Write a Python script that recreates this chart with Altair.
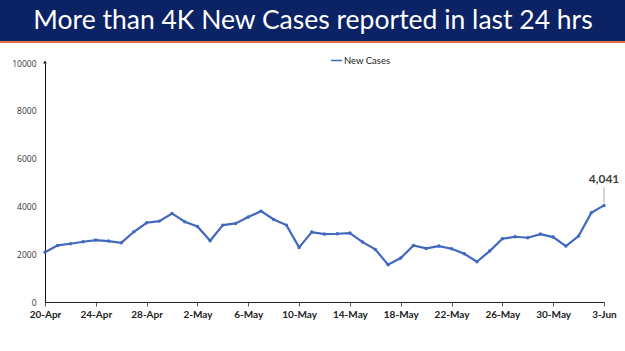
import altair as alt
import pandas as pd

dates = [d.strftime("%-d-%b") for d in pd.date_range("2020-04-20", "2020-06-03", freq="D")]
new_cases = [2080, 2368, 2437, 2521, 2591, 2549, 2479, 2939, 3315, 3384,
             3705, 3357, 3162, 2563, 3217, 3287, 3552, 3802, 3454, 3217,
             2284, 2925, 2841, 2855, 2883, 2507, 2201, 1560, 1838, 2368,
             2242, 2340, 2228, 2019, 1685, 2131, 2646, 2730, 2688, 2841,
             2716, 2340, 2758, 3733, 4041]
tick_labels = dates[::4]
series_name = "New Cases"
title_text = "More than 4K New Cases reported in last 24 hrs"

df = pd.DataFrame({"date": dates, "cases": new_cases, "series": series_name})
last = df.tail(1).copy()
last["label"] = "4,041"

W, H = 559, 239
LEFT, TOP = 45, 63
BLUE = "#4168bf"

xenc = alt.X("date:O", sort=None, scale=alt.Scale(type="point", padding=0),
             axis=alt.Axis(values=tick_labels, labelAngle=0, title=None,
                           labelFont="Lato", labelFontWeight="bold", labelFontSize=10,
                           labelColor="#222", domainColor="#222", tickColor="#555",
                           tickSize=4, labelPadding=3, grid=False))
yenc = alt.Y("cases:Q", scale=alt.Scale(domain=[0, 10000], nice=False),
             axis=alt.Axis(values=[0, 2000, 4000, 6000, 8000, 10000], title=None,
                           format="d", ticks=False, labelFont="Open Sans", labelFontSize=8.5,
                           labelColor="#333", domainColor="#111", labelPadding=9,
                           grid=False))

base = alt.Chart(df)

line = base.mark_line(strokeWidth=2.2, clip=False).encode(
    x=xenc, y=yenc,
    color=alt.Color("series:N", scale=alt.Scale(domain=[series_name], range=[BLUE]),
                    legend=alt.Legend(title=None, orient="none", legendX=285, legendY=-9,
                                      symbolType="stroke", symbolSize=120,
                                      symbolStrokeWidth=1.5, labelFont="Lato",
                                      labelFontSize=9.5, labelColor="#222",
                                      labelOffset=1, padding=0)))
pts = base.mark_point(filled=True, size=12, color=BLUE, opacity=1).encode(x=xenc, y=yenc)

arrow = alt.Chart(df.head(1)).mark_point(shape="triangle-up", filled=True, size=14,
                                         color="#111", opacity=1, yOffset=-1).encode(
    x=alt.X("date:O", sort=None), y=alt.datum(10000))

conn = alt.Chart(last).mark_rule(color="#aaa", strokeWidth=1).encode(
    x=alt.X("date:O", sort=None), y=alt.datum(4150), y2=alt.datum(4800))
lab = alt.Chart(last).mark_text(font="Lato", fontWeight="bold", fontSize=12,
                                color="#404040", dy=-26).encode(
    x=alt.X("date:O", sort=None), y="cases:Q", text="label:N")

banner = alt.Chart(df.head(1)).mark_rect(color="#0b2264").encode(
    x=alt.value(-LEFT), x2=alt.value(625 - LEFT), y=alt.value(-TOP), y2=alt.value(41 - TOP))
stripe = alt.Chart(df.head(1)).mark_rect(color="#e0703a").encode(
    x=alt.value(-LEFT), x2=alt.value(625 - LEFT), y=alt.value(41 - TOP), y2=alt.value(43 - TOP))
title = alt.Chart(df.head(1)).mark_text(font="Lato", fontSize=26.5, color="white",
                                        baseline="middle").encode(
    x=alt.value(313 - LEFT), y=alt.value(21 - TOP), text=alt.value(title_text))

chart = alt.layer(banner, stripe, title, line, pts, arrow, conn, lab).properties(
    width=W, height=H,
    autosize=alt.AutoSizeParams(type="none"),
    padding={"left": LEFT, "top": TOP, "right": 625 - LEFT - W, "bottom": 351 - TOP - H},
).configure(background="white", view=alt.ViewConfig(stroke=None))

chart.save("out.html", embed_options={"renderer": "svg", "actions": False})
